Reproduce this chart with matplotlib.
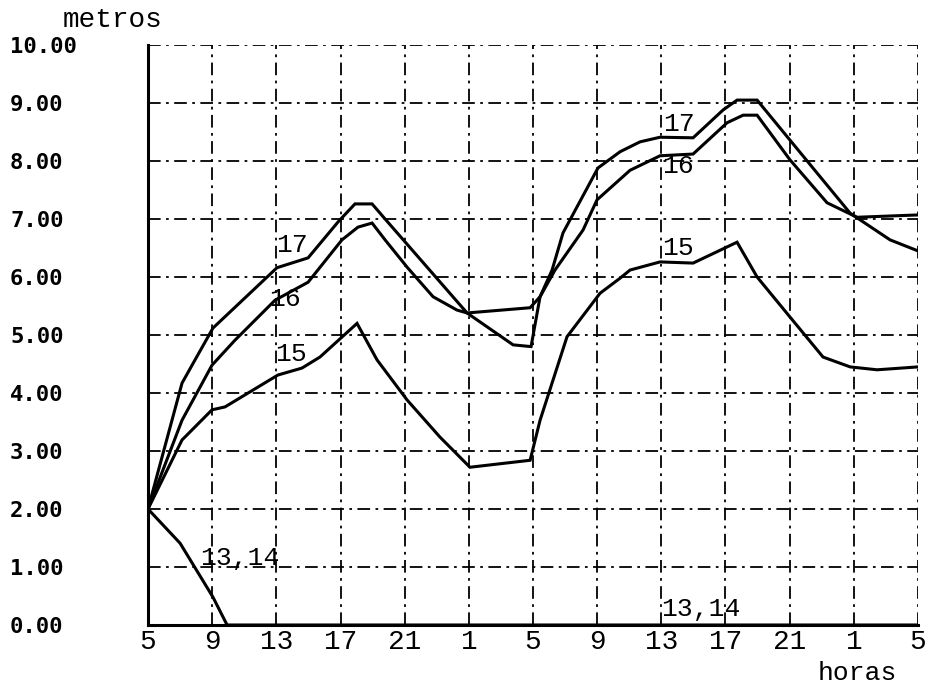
import matplotlib
matplotlib.use("Agg")
import matplotlib.pyplot as plt

# hours since start (0..48), tick labels are clock hours
xtick_pos = [0, 4, 8, 12, 16, 20, 24, 28, 32, 36, 40, 44, 48]
xtick_labels = ["5", "9", "13", "17", "21", "1", "5", "9", "13", "17", "21", "1", "5"]
ytick_pos = list(range(0, 11))
ytick_labels = [f"{v:.2f}" for v in ytick_pos]

t17 = [0, 2.12, 2.93, 4.05, 8.04, 9.98, 11.85, 12.9, 13.97, 14.78, 19.89, 22.76, 23.88,
       24.44, 25.19, 25.87, 28.05, 29.43, 30.67, 31.92, 33.98, 35.85, 36.72, 37.97,
       40.02, 43.77, 46.26, 48]
y17 = [2.0, 4.17, 4.57, 5.12, 6.16, 6.33, 6.95, 7.26, 7.26, 7.0, 5.38, 4.83, 4.8,
       5.66, 6.12, 6.76, 7.88, 8.16, 8.33, 8.41, 8.4, 8.88, 9.05, 9.05,
       8.36, 7.1, 6.64, 6.45]

t16 = [0, 2.12, 3.99, 5.42, 7.92, 9.98, 12.09, 13.09, 13.97, 14.78, 16.15, 17.77, 19.26,
       19.89, 23.82, 24.44, 25.37, 27.12, 27.99, 30.05, 31.92, 33.98, 36.1, 37.1, 37.97,
       40.02, 42.33, 44.2, 48]
y16 = [2.0, 3.53, 4.48, 4.91, 5.6, 5.91, 6.64, 6.86, 6.93, 6.64, 6.17, 5.66, 5.43,
       5.38, 5.47, 5.66, 6.12, 6.81, 7.33, 7.84, 8.09, 8.12, 8.66, 8.79, 8.79,
       8.02, 7.28, 7.03, 7.07]

t15 = [0, 2.12, 3.99, 4.8, 8.1, 9.6, 10.72, 13.03, 14.28, 16.15, 18.2, 20.07, 23.82,
       24.44, 26.12, 28.18, 29.43, 30.05, 31.92, 33.98, 36.72, 37.97, 40.02, 42.08,
       43.77, 45.45, 48]
y15 = [2.0, 3.19, 3.71, 3.76, 4.31, 4.43, 4.62, 5.2, 4.57, 3.88, 3.24, 2.72, 2.84,
       3.53, 4.97, 5.72, 5.98, 6.12, 6.26, 6.24, 6.6, 6.0, 5.31, 4.62,
       4.45, 4.4, 4.45]

t1314 = [0, 2.0, 4.05, 4.93, 48]
y1314 = [2.0, 1.41, 0.48, 0.0, 0.0]

labels = [("17", 8.98, 6.55), ("16", 8.54, 5.62), ("15", 8.92, 4.67), ("13,14", 5.74, 1.16),
          ("17", 33.1, 8.64), ("16", 33.04, 7.91), ("15", 33.04, 6.5), ("13,14", 34.48, 0.28)]

fig = plt.figure(figsize=(9.28, 6.85), dpi=100)
ax = fig.add_axes([148/928, 1-625/685, (918-148)/928, (625-45)/685])

dashdot = (0, (7, 3, 1.5, 3))
for xv in xtick_pos:
    ax.plot([xv, xv], [0, 10], color="black", lw=1.3, ls=dashdot, zorder=1)
for yv in ytick_pos:
    ax.plot([0, 48], [yv, yv], color="black", lw=1.3, ls=dashdot, zorder=1)

for tt, yy in [(t17, y17), (t16, y16), (t15, y15), (t1314, y1314)]:
    ax.plot(tt, yy, color="black", lw=2.2, solid_joinstyle="miter", zorder=3)

for txt, xx, yy in labels:
    ax.text(xx, yy, txt, family="Liberation Mono", fontsize=19, ha="center", va="center",
            color="black", zorder=4)

ax.set_xlim(0, 48)
ax.set_ylim(0, 10)
ax.set_xticks(xtick_pos)
ax.set_xticklabels(xtick_labels, family="Liberation Mono", fontsize=20)
ax.set_yticks(ytick_pos)
ax.set_yticklabels(ytick_labels, family="DejaVu Sans Mono", fontweight="bold", fontsize=16,
                   ha="left")
ax.tick_params(axis="x", length=0, pad=3)
ax.tick_params(axis="y", length=0, pad=(148 - 10) * 0.72)

for s in ["top", "right"]:
    ax.spines[s].set_visible(False)
ax.spines["left"].set_linewidth(2.2)
ax.spines["bottom"].set_linewidth(2.2)

fig.text(113/928, 1-20/685, "metros", family="Liberation Mono", fontsize=20,
         ha="center", va="center")
fig.text(857/928, 1-680/685, "horas", family="Liberation Mono", fontsize=19,
         ha="center", va="baseline")

fig.savefig("out.png", dpi=100, facecolor="white")
